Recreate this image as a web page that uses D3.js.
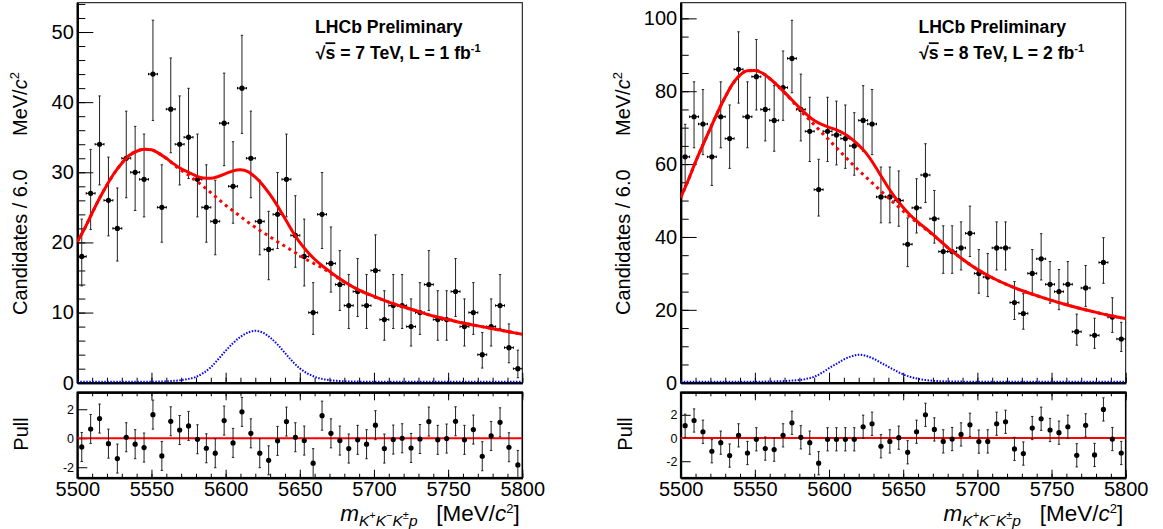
<!DOCTYPE html>
<html>
<head>
<meta charset="utf-8">
<script src="https://cdn.jsdelivr.net/npm/d3@7"></script>
<style>
body { margin: 0; background: #fff; }
svg { display: block; font-family: "Liberation Sans", Arial, Helvetica, sans-serif; }
</style>
</head>
<body>
<svg id="chart" width="1163" height="529"></svg>
<script>
// 50 bins of 6 MeV between 5500 and 5800
var binCentres = d3.range(50).map(function(i) { return 5503 + 6 * i; });

// candidates per bin
var counts7 = [18,27,34,26,22,32,30,29,44,25,39,34,35,29,25,23,37,28,42,32,
               23,19,24,29,21,18,10,24,17,14,11,13,11,16,9,11,11,8,10,14,
               9,9,13,8,10,4,8,11,5,2];
var counts8 = [62,73,71,62,73,67,86,73,84,75,72,81,89,75,69,53,69,68,67,65,
               72,71,51,51,50,38,48,57,45,36,36,37,41,30,29,37,37,22,19,30,
               34,27,25,27,14,26,13,33,18,12];

// pulls per bin
var pulls7 = [-0.6,0.64,1.36,-0.37,-1.4,0.07,-0.41,-0.64,1.63,-1.22,
              1.17,0.57,0.85,-0.07,-0.69,-1.03,1.22,-0.32,1.82,0.34,
              -1.03,-1.52,-0.18,1.15,0.07,-0.16,-1.72,1.56,0.34,-0.16,
              -0.71,-0.11,-0.41,0.9,-0.71,-0.09,0.0,-0.67,-0.05,1.15,
              -0.11,-0.02,1.17,-0.11,0.6,-1.24,0.16,1.1,-0.62,-1.84];
var pulls8 = [1.06,1.51,0.54,-1.14,-0.4,-1.51,0.23,-1.29,-0.11,-0.91,
              -1.0,0.23,1.31,0.06,-0.4,-2.17,-0.11,-0.11,-0.11,-0.11,
              0.97,1.23,-0.71,-0.29,0.03,-1.23,0.54,2.0,0.74,-0.29,
              -0.09,0.31,1.14,-0.31,-0.29,1.23,1.4,-0.94,-1.34,0.86,
              1.66,0.69,0.46,0.97,-1.49,1.09,-1.46,2.46,-0.09,-1.29];

// fit curves sampled at these masses
var curveMass = [5500,5505,5510,5515,5520,5525,5530,5535,5540,5545,5550,5555,5560,
                 5565,5570,5575,5580,5585,5590,5595,5600,5605,5610,5615,5620,5625,
                 5630,5635,5640,5645,5650,5655,5660,5665,5670,5675,5680,5690,5700,
                 5710,5720,5730,5740,5750,5760,5770,5780,5790,5800];

var total7 = [20.1,22.0,24.2,26.3,28.2,29.9,31.3,32.4,33.0,33.3,33.2,32.7,32.0,
              31.2,30.5,30.0,29.5,29.2,29.15,29.4,29.8,30.2,30.35,30.1,29.3,28.2,
              26.8,25.2,23.4,21.6,20.0,18.7,17.6,16.7,15.9,15.1,14.4,13.2,12.3,
              11.5,10.8,10.15,9.5,9.0,8.5,8.1,7.7,7.3,6.9];
var bkg7 =   [20.1,22.0,24.2,26.3,28.2,29.9,31.3,32.4,33.0,33.3,33.2,32.7,32.0,
              31.1,30.3,29.6,28.8,28.0,27.1,26.2,25.3,24.5,23.7,22.9,22.15,21.45,
              20.8,20.1,19.45,18.8,18.15,17.5,16.95,16.4,15.7,15.05,14.35,13.2,12.3,
              11.5,10.8,10.15,9.5,9.0,8.5,8.1,7.7,7.3,6.9];
var sig7 =   [0,0,0,0,0,0,0,0,0,0,0,0.02,0.05,
              0.12,0.22,0.4,0.68,1.25,2.05,3.2,4.4,5.5,6.4,7.0,7.27,7.0,
              6.3,5.3,4.1,2.9,1.9,1.2,0.7,0.4,0.22,0.12,0.06,0.01,0,
              0,0,0,0,0,0,0,0,0,0];

var total8 = [50.8,55.5,60.6,65.3,69.8,74.3,78.4,82.0,84.4,85.6,85.7,85.0,83.5,
              81.7,79.7,77.6,75.5,73.6,72.0,70.9,70.1,69.4,68.4,67.0,65.2,63.0,
              60.1,56.8,53.5,50.6,48.1,45.9,44.1,42.4,40.7,38.9,37.1,33.9,31.1,
              28.8,26.9,25.3,23.9,22.6,21.4,20.3,19.3,18.4,17.6];
var bkg8 =   [50.8,55.5,60.6,65.3,69.8,74.3,78.4,82.0,84.4,85.6,85.7,85.0,83.5,
              81.7,79.6,77.4,75.0,72.9,70.8,68.7,66.6,64.5,62.4,60.3,58.3,56.4,
              54.5,52.6,50.7,48.9,47.1,45.4,43.7,42.2,40.6,38.9,37.1,33.9,31.1,
              28.8,26.9,25.3,23.9,22.6,21.4,20.3,19.3,18.4,17.6];
var sig8 =   [0,0,0,0,0,0,0,0,0,0,0,0.02,0.05,
              0.1,0.18,0.3,0.45,0.8,1.35,2.4,3.7,4.9,6.1,6.95,7.4,7.1,
              6.3,5.2,4.1,3.0,2.0,1.3,0.8,0.45,0.25,0.13,0.07,0.02,0,
              0,0,0,0,0,0,0,0,0,0];

// tick labels
var massTicks = [5500,5550,5600,5650,5700,5750,5800];
var yTicks7 = [0,10,20,30,40,50];
var yTicks8 = [0,20,40,60,80,100];
var pullTicks = [-2,0,2];

var panels = [
  { left: 77.3, counts: counts7, pulls: pulls7, total: total7, bkg: bkg7, sig: sig7,
    yMax: 54.18, yTicks: yTicks7, yMinor: 2, pullRange: [-2.72, 3.17], sqrtS: "7", lumi: "1" },
  { left: 680.7, counts: counts8, pulls: pulls8, total: total8, bkg: bkg8, sig: sig8,
    yMax: 104.3, yTicks: yTicks8, yMinor: 5, pullRange: [-3.42, 3.94], sqrtS: "8", lumi: "2" }
];

var W = 445, mainTop = 2.7, mainBottom = 382.7, pullTop = 392.3, pullBottom = 477.7;
var plain = function(d) { return String(d); };

// Poisson 68% central interval (Garwood)
function poissonCdf(n, mu) {
  var term = Math.exp(-mu), sum = term;
  for (var k = 1; k <= n; k++) { term *= mu / k; sum += term; }
  return sum;
}
function solveMu(n, target) {
  var lo = 0, hi = n + 10 * Math.sqrt(n + 1) + 10;
  for (var it = 0; it < 60; it++) {
    var mid = (lo + hi) / 2;
    if (poissonCdf(n, mid) > target) lo = mid; else hi = mid;
  }
  return (lo + hi) / 2;
}
function poissonInterval(n) {
  var a = 0.158655;
  return [n > 0 ? solveMu(n - 1, 1 - a) : 0, solveMu(n, a)];
}

var svg = d3.select("#chart");

function styleAxis(g, size) {
  g.attr("font-family", null).attr("font-size", size);
  g.selectAll("text").attr("fill", "#000");
  g.selectAll("line").attr("stroke", "#000").attr("stroke-width", 1);
  g.select(".domain").attr("stroke", "#000").attr("stroke-width", 2);
}

panels.forEach(function(p, idx) {
  var g = svg.append("g");
  var x = d3.scaleLinear().domain([5500, 5800]).range([p.left, p.left + W]);
  var y = d3.scaleLinear().domain([0, p.yMax]).range([mainBottom, mainTop]);
  var yp = d3.scaleLinear().domain(p.pullRange).range([pullBottom, pullTop]);

  var clipMain = "clipMain" + idx, clipPull = "clipPull" + idx;
  var defs = g.append("defs");
  defs.append("clipPath").attr("id", clipMain).append("rect")
    .attr("x", p.left).attr("y", mainTop).attr("width", W).attr("height", mainBottom - mainTop);
  defs.append("clipPath").attr("id", clipPull).append("rect")
    .attr("x", p.left).attr("y", pullTop).attr("width", W).attr("height", pullBottom - pullTop);

  // frames
  g.append("rect").attr("x", p.left).attr("y", mainTop).attr("width", W)
    .attr("height", mainBottom - mainTop).attr("fill", "none").attr("stroke", "#000").attr("stroke-width", 1);
  g.append("rect").attr("x", p.left).attr("y", pullTop).attr("width", W)
    .attr("height", pullBottom - pullTop).attr("fill", "none").attr("stroke", "#000").attr("stroke-width", 1.6);

  // main y axis
  var minorY = d3.range(0, p.yMax, p.yMinor);
  g.append("g").attr("transform", "translate(" + p.left + ",0)")
    .call(d3.axisLeft(y).tickValues(minorY).tickSizeInner(-8).tickSizeOuter(0).tickFormat(""))
    .call(styleAxis, 20);
  g.append("g").attr("transform", "translate(" + p.left + ",0)")
    .call(d3.axisLeft(y).tickValues(p.yTicks).tickSizeInner(-16).tickSizeOuter(0).tickPadding(3.5).tickFormat(plain))
    .call(styleAxis, 20);

  // main x axis (no labels)
  var minorX = d3.range(5500, 5801, 10);
  g.append("g").attr("transform", "translate(0," + mainBottom + ")")
    .call(d3.axisBottom(x).tickValues(minorX).tickSizeInner(-5).tickSizeOuter(0).tickFormat(""))
    .call(styleAxis, 20);
  g.append("g").attr("transform", "translate(0," + mainBottom + ")")
    .call(d3.axisBottom(x).tickValues(massTicks).tickSizeInner(-10).tickSizeOuter(0).tickFormat(""))
    .call(styleAxis, 20);

  // pull axes
  g.append("g").attr("transform", "translate(0," + pullTop + ")")
    .call(d3.axisTop(x).tickValues(minorX).tickSizeInner(-4).tickSizeOuter(0).tickFormat(""))
    .call(styleAxis, 20);
  g.append("g").attr("transform", "translate(0," + pullTop + ")")
    .call(d3.axisTop(x).tickValues(massTicks).tickSizeInner(-8).tickSizeOuter(0).tickFormat(""))
    .call(styleAxis, 20);
  g.append("g").attr("transform", "translate(0," + pullBottom + ")")
    .call(d3.axisBottom(x).tickValues(minorX).tickSizeInner(-4).tickSizeOuter(0).tickFormat(""))
    .call(styleAxis, 20);
  g.append("g").attr("transform", "translate(0," + pullBottom + ")")
    .call(d3.axisBottom(x).tickValues(massTicks).tickSizeInner(-8).tickSizeOuter(0).tickPadding(3.6).tickFormat(plain))
    .call(styleAxis, 20);
  g.append("g").attr("transform", "translate(" + p.left + ",0)")
    .call(d3.axisLeft(yp).tickValues(pullTicks).tickSizeInner(-10).tickSizeOuter(0).tickPadding(3.3).tickFormat(plain))
    .call(styleAxis, 12.5);

  // data points with Poisson error bars
  var dg = g.append("g").attr("clip-path", "url(#" + clipMain + ")");
  p.counts.forEach(function(n, i) {
    var m = binCentres[i], iv = poissonInterval(n);
    var cx = x(m), cy = y(n), xl = x(m - 3), xr = x(m + 3);
    dg.append("line").attr("x1", cx).attr("x2", cx).attr("y1", y(iv[0])).attr("y2", y(iv[1]))
      .attr("stroke", "#222").attr("stroke-width", 1);
    dg.append("line").attr("x1", cx - 1.2).attr("x2", cx + 1.2).attr("y1", y(iv[1])).attr("y2", y(iv[1]))
      .attr("stroke", "#222").attr("stroke-width", 1);
    dg.append("line").attr("x1", cx - 1.2).attr("x2", cx + 1.2).attr("y1", y(iv[0])).attr("y2", y(iv[0]))
      .attr("stroke", "#222").attr("stroke-width", 1);
    dg.append("line").attr("x1", xl).attr("x2", xr).attr("y1", cy).attr("y2", cy)
      .attr("stroke", "#000").attr("stroke-width", 1);
    dg.append("line").attr("x1", xl).attr("x2", xl).attr("y1", cy - 1.2).attr("y2", cy + 1.2)
      .attr("stroke", "#000").attr("stroke-width", 1);
    dg.append("line").attr("x1", xr).attr("x2", xr).attr("y1", cy - 1.2).attr("y2", cy + 1.2)
      .attr("stroke", "#000").attr("stroke-width", 1);
    dg.append("circle").attr("cx", cx).attr("cy", cy).attr("r", 2.6).attr("fill", "#000");
  });

  // fit curves
  function line(vals) {
    return d3.line().x(function(d, i) { return x(curveMass[i]); })
      .y(function(d) { return y(d); }).curve(d3.curveMonotoneX)(vals);
  }
  var cg = g.append("g").attr("clip-path", "url(#" + clipMain + ")").attr("fill", "none");
  cg.append("path").attr("d", line(p.sig)).attr("stroke", "#0000ff").attr("stroke-width", 2)
    .attr("stroke-dasharray", "1.5,1.5").attr("transform", "translate(0,-1)");
  cg.append("path").attr("d", line(p.bkg)).attr("stroke", "#ff0000").attr("stroke-width", 3)
    .attr("stroke-dasharray", "3,4");
  cg.append("path").attr("d", line(p.total)).attr("stroke", "#ff0000").attr("stroke-width", 3);

  // pulls
  var pg = g.append("g").attr("clip-path", "url(#" + clipPull + ")");
  pg.append("line").attr("x1", x(5500)).attr("x2", x(5800)).attr("y1", yp(0)).attr("y2", yp(0))
    .attr("stroke", "#ff0000").attr("stroke-width", 2);
  p.pulls.forEach(function(v, i) {
    var cx = x(binCentres[i]);
    pg.append("line").attr("x1", cx).attr("x2", cx).attr("y1", yp(v - 1)).attr("y2", yp(v + 1))
      .attr("stroke", "#222").attr("stroke-width", 1);
    [v - 1, v + 1].forEach(function(e) {
      pg.append("line").attr("x1", cx - 1.2).attr("x2", cx + 1.2).attr("y1", yp(e)).attr("y2", yp(e))
        .attr("stroke", "#222").attr("stroke-width", 1);
    });
    pg.append("circle").attr("cx", cx).attr("cy", yp(v)).attr("r", 2.6).attr("fill", "#000");
  });

  // axis titles
  var yl = g.append("text").attr("transform", "translate(" + (p.left - 50.6) + ",315) rotate(-90)")
    .attr("font-size", 20).style("white-space", "pre");
  yl.append("tspan").text("Candidates / 6.0      MeV/");
  yl.append("tspan").attr("font-style", "italic").text("c");
  yl.append("tspan").attr("font-size", 13).attr("dy", -8).text("2");

  g.append("text").attr("transform", "translate(" + (p.left - 49) + ",434) rotate(-90)")
    .attr("font-size", 20).attr("text-anchor", "middle").text("Pull");

  var xt = g.append("text").attr("x", p.left + W - 2.5).attr("y", 520.5).attr("font-size", 22.5)
    .attr("text-anchor", "end").style("white-space", "pre");
  xt.append("tspan").attr("font-style", "italic").text("m");
  xt.append("tspan").attr("font-style", "italic").attr("font-size", 15.5).attr("dy", 5).text("K");
  xt.append("tspan").attr("font-size", 11).attr("dy", -6.5).text("+");
  xt.append("tspan").attr("font-style", "italic").attr("font-size", 15.5).attr("dy", 6.5).text("K");
  xt.append("tspan").attr("font-size", 11).attr("dy", -6.5).text("\u2212");
  xt.append("tspan").attr("font-style", "italic").attr("font-size", 15.5).attr("dy", 6.5).text("K");
  xt.append("tspan").attr("font-size", 11).attr("dy", -6.5).text("\u00b1");
  xt.append("tspan").attr("font-style", "italic").attr("font-size", 15.5).attr("dy", 6.5).text("p");
  xt.append("tspan").attr("dy", -5).text("   [MeV/");
  xt.append("tspan").attr("font-style", "italic").text("c");
  xt.append("tspan").attr("font-size", 13).attr("dy", -8).text("2");
  xt.append("tspan").attr("dy", 8).text("]");

  // labels
  g.append("text").attr("x", p.left + 237.7).attr("y", 32.6).attr("font-size", 17.6)
    .attr("font-weight", "bold").text("LHCb Preliminary");
  var t2 = g.append("text").attr("x", p.left + 238.5).attr("y", 59.3).attr("font-size", 17.6)
    .attr("font-weight", "bold").style("white-space", "pre");
  t2.append("tspan").text("\u221a");
  t2.append("tspan").style("text-decoration", "overline").text("s");
  t2.append("tspan").text(" = " + p.sqrtS + " TeV, L = " + p.lumi + " fb");
  t2.append("tspan").attr("font-size", 11).attr("dy", -7).text("-1");
});
</script>
</body>
</html>
